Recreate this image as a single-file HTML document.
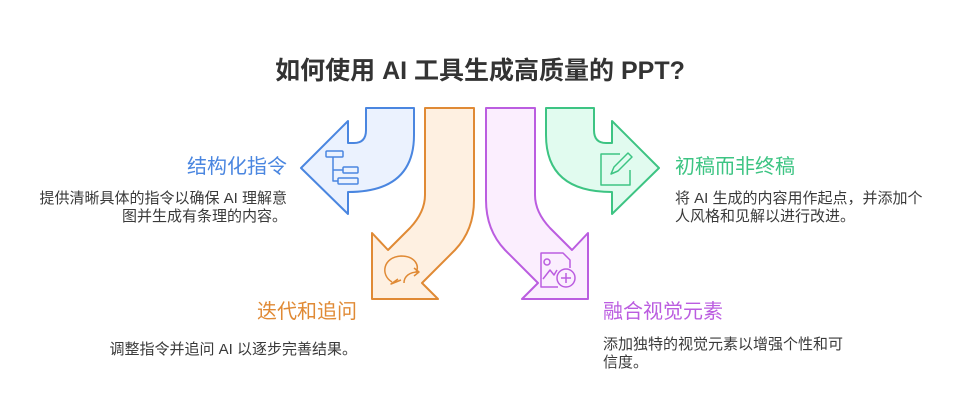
<!DOCTYPE html>
<html><head><meta charset="utf-8"><style>
body{margin:0;width:960px;height:419px;background:#fff;position:relative;overflow:hidden;font-family:"Liberation Sans","Noto Sans CJK SC",sans-serif;}
.t{position:absolute;white-space:nowrap;}
.d{font-size:15px;color:#3a3a3a;line-height:18px;}
.h{font-size:20px;line-height:24px;}
</style></head><body>
<div class="t" style="left:0;width:960px;text-align:center;top:51px;font-size:25px;font-weight:bold;color:#333;">如何使用 AI 工具生成高质量的 PPT?</div>
<svg width="960" height="419" style="position:absolute;left:0;top:0">
<g stroke-width="2" stroke-linejoin="round" fill="none">
<path d="M366,108 L414,108 L414,135 Q414,192 348,192 L348,214 L301,168 L348,121 L348,143 L354,143 Q366,143 366,130 Z" fill="#ebf2fe" stroke="#4a86e0"/>
<path d="M594,108 L546,108 L546,135 Q546,192 612,192 L612,214 L659,168 L612,121 L612,143 L606,143 Q594,143 594,130 Z" fill="#e1fbef" stroke="#3dc483"/>
<path d="M425,108 L474,108 L474,200 Q474,230 455,250 L422,283 L438,299 L372,299 L372,233 L388,250 L410,228 Q425,212 425,195 Z" fill="#fef0e1" stroke="#e08a35"/>
<path d="M535,108 L486,108 L486,200 Q486,230 505,250 L538,283 L522,299 L588,299 L588,233 L572,250 L550,228 Q535,212 535,195 Z" fill="#fbeefe" stroke="#bb5de0"/>
<g stroke="#4a86e0" stroke-width="1.5">
<rect x="326" y="151" width="17" height="6" rx="1"/>
<rect x="343" y="167" width="15" height="6" rx="1"/>
<rect x="338" y="178" width="20" height="6" rx="1"/>
<path d="M333,157 V181 H338 M333,170 H343"/>
</g>
<g stroke="#3dc483" stroke-width="1.5">
<path d="M620,154 H601 V185 H630 V170"/>
<path d="M611,174 L614,167 L628,153 L632,157 L618,171 Z"/>
</g>
<g stroke="#e08a35" stroke-width="1.5">
<path d="M392,282 C380,275 383,257 401,256 C415,256 420,266 416,272 M398,279 L391,284 L401,280"/>
<path d="M404,283 C404,276 410,272 418,272 M414,268 L419,272 L414,276"/>
</g>
<g stroke="#bb5de0" stroke-width="1.5">
<path d="M558,287 H541 V253 H563 L570,260 V268"/>
<circle cx="547" cy="262" r="3"/>
<path d="M543,279 L550,270 L554,275 L557,270"/>
<circle cx="566" cy="278" r="9"/>
<path d="M566,273 V283 M561,278 H571"/>
</g>
</g>
</svg>
<div class="t h" style="right:673px;top:155px;color:#4a86e0;">结构化指令</div>
<div class="t d" style="right:673px;top:190px;text-align:right;">提供清晰具体的指令以确保 AI 理解意<br>图并生成有条理的内容。</div>
<div class="t h" style="left:675px;top:155px;color:#3dc483;">初稿而非终稿</div>
<div class="t d" style="left:675px;top:190px;">将 AI 生成的内容用作起点，并添加个<br>人风格和见解以进行改进。</div>
<div class="t h" style="right:603px;top:300px;color:#e08a35;">迭代和追问</div>
<div class="t d" style="right:603px;top:341px;">调整指令并追问 AI 以逐步完善结果。</div>
<div class="t h" style="left:603px;top:300px;color:#bb5de0;">融合视觉元素</div>
<div class="t d" style="left:603px;top:336px;">添加独特的视觉元素以增强个性和可<br>信度。</div>
</body></html>
